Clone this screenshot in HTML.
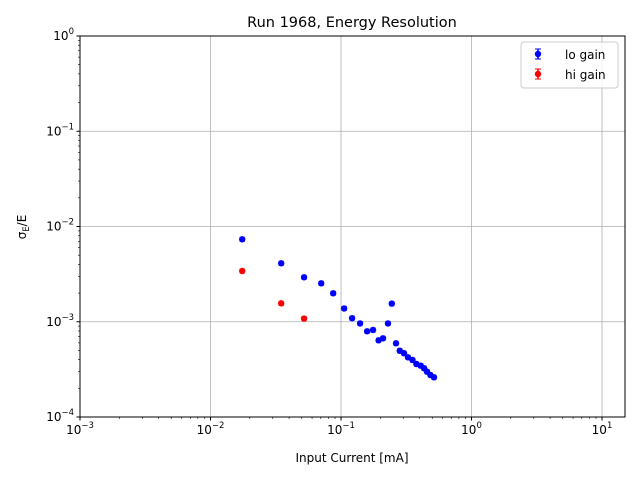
<!DOCTYPE html>
<html><head><meta charset="utf-8"><style>
body{margin:0;background:#fff;font-family:"DejaVu Sans","Liberation Sans",sans-serif;}
svg text{font-family:"DejaVu Sans","Liberation Sans",sans-serif;}
</style></head><body>
<svg id="chart" width="640" height="480" viewBox="0 0 640 480" xmlns="http://www.w3.org/2000/svg">
<rect width="640" height="480" fill="#fff"/>
<g id="grid"></g>
<g id="marks"></g>
<rect x="80" y="36" width="545" height="381" fill="none" stroke="#000" stroke-width="1"/>
<g id="axes"></g>
<text x="352" y="27" font-size="14.5" text-anchor="middle">Run 1968, Energy Resolution</text>
<text x="352" y="462" font-size="12" text-anchor="middle">Input Current [mA]</text>
<text transform="translate(26,227) rotate(-90)" font-size="12" text-anchor="middle">σ<tspan font-size="8.5" dy="3">E</tspan><tspan dy="-3">/E</tspan></text>
<g>
<rect x="521" y="42" width="97" height="46" rx="3" fill="#fff" fill-opacity="0.8" stroke="#ccc"/>
<g>
<line x1="538" y1="49" x2="538" y2="59" stroke="#00f" stroke-width="1.5"/><line x1="535" y1="49" x2="541" y2="49" stroke="#00f"/><line x1="535" y1="59" x2="541" y2="59" stroke="#00f"/>
<circle cx="538" cy="54" r="3.2" fill="#00f"/>
<text x="565" y="59" font-size="12">lo gain</text></g>
<g>
<line x1="538" y1="69" x2="538" y2="79" stroke="#f00" stroke-width="1.5"/><line x1="535" y1="69" x2="541" y2="69" stroke="#f00"/><line x1="535" y1="79" x2="541" y2="79" stroke="#f00"/>
<circle cx="538" cy="74" r="3.2" fill="#f00"/>
<text x="565" y="79" font-size="12">hi gain</text></g>
</g>
</svg>
<script>
const loX=[0.0175,0.0348,0.0521,0.0705,0.0871,0.1057,0.1216,0.140,0.1585,0.176,0.194,0.210,0.229,0.245,0.264,0.282,0.304,0.326,0.353,0.378,0.408,0.433,0.456,0.484,0.516];
const loY=[7.34e-3,4.11e-3,2.93e-3,2.53e-3,1.99e-3,1.38e-3,1.09e-3,9.6e-4,7.94e-4,8.2e-4,6.38e-4,6.7e-4,9.6e-4,1.55e-3,5.94e-4,4.96e-4,4.67e-4,4.23e-4,3.97e-4,3.6e-4,3.46e-4,3.25e-4,2.99e-4,2.76e-4,2.61e-4];
const hiX=[0.0175,0.0348,0.0521];
const hiY=[3.41e-3,1.56e-3,1.08e-3];
const xTicks=[-3,-2,-1,0,1];
const yTicks=[-4,-3,-2,-1,0];
const NS="http://www.w3.org/2000/svg";
const L=80,R=625,T=36,B=417,xmin=-3,xmax=Math.log10(15),ymin=-4,ymax=0;
function sx(v){return L+(Math.log10(v)-xmin)/(xmax-xmin)*(R-L);}
function sy(v){return B-(Math.log10(v)-ymin)/(ymax-ymin)*(B-T);}
function mk(t,a,p){const e=document.createElementNS(NS,t);for(const k in a)e.setAttribute(k,a[k]);p.appendChild(e);return e;}
const grid=document.getElementById('grid'),axes=document.getElementById('axes'),marks=document.getElementById('marks');
xTicks.forEach(d=>{const x=sx(Math.pow(10,d));
 const g=mk('line',{x1:x,x2:x,y1:T,y2:B,stroke:'#b0b0b0','stroke-width':0.8},grid);
 
 mk('line',{x1:x,x2:x,y1:B,y2:B+3.5,stroke:'#000'},axes);
 for(let m=2;m<10;m++){const xm=sx(m*Math.pow(10,d));if(xm<=R)mk('line',{x1:xm,x2:xm,y1:B,y2:B+2,stroke:'#000','stroke-width':0.6},axes);}
 const t=mk('text',{x:x,y:B+17,'font-size':12,'text-anchor':'middle'},axes);
 
 t.innerHTML='10<tspan font-size="8.5" dy="-6">'+(d<0?'−'+(-d):d)+'</tspan>';});
yTicks.forEach(d=>{const y=sy(Math.pow(10,d));
 const g=mk('line',{x1:L,x2:R,y1:y,y2:y,stroke:'#b0b0b0','stroke-width':0.8},grid);
 
 mk('line',{x1:L-3.5,x2:L,y1:y,y2:y,stroke:'#000'},axes);
 if(d<0)for(let m=2;m<10;m++){const ym=sy(m*Math.pow(10,d));mk('line',{x1:L-2,x2:L,y1:ym,y2:ym,stroke:'#000','stroke-width':0.6},axes);}
 const t=mk('text',{x:L-6,y:y+4,'font-size':12,'text-anchor':'end'},axes);
 
 t.innerHTML='10<tspan font-size="8.5" dy="-6">'+(d<0?'−'+(-d):d)+'</tspan>';});
function series(xs,ys,col,name){xs.forEach((xv,i)=>{const g=mk('g',{},marks);
 
 const x=sx(xv),y1=sy(ys[i]*1.05),y2=sy(ys[i]*0.95);
 mk('line',{x1:x,x2:x,y1:y1,y2:y2,stroke:col,'stroke-width':1.5},g);
 mk('line',{x1:x-2.5,x2:x+2.5,y1:y1,y2:y1,stroke:col},g);
 mk('line',{x1:x-2.5,x2:x+2.5,y1:y2,y2:y2,stroke:col},g);
 mk('circle',{cx:x,cy:sy(ys[i]),r:3.2,fill:col},g);});}
series(loX,loY,'#00f','lo-gain');
series(hiX,hiY,'#f00','hi-gain');
</script>
</body></html>
